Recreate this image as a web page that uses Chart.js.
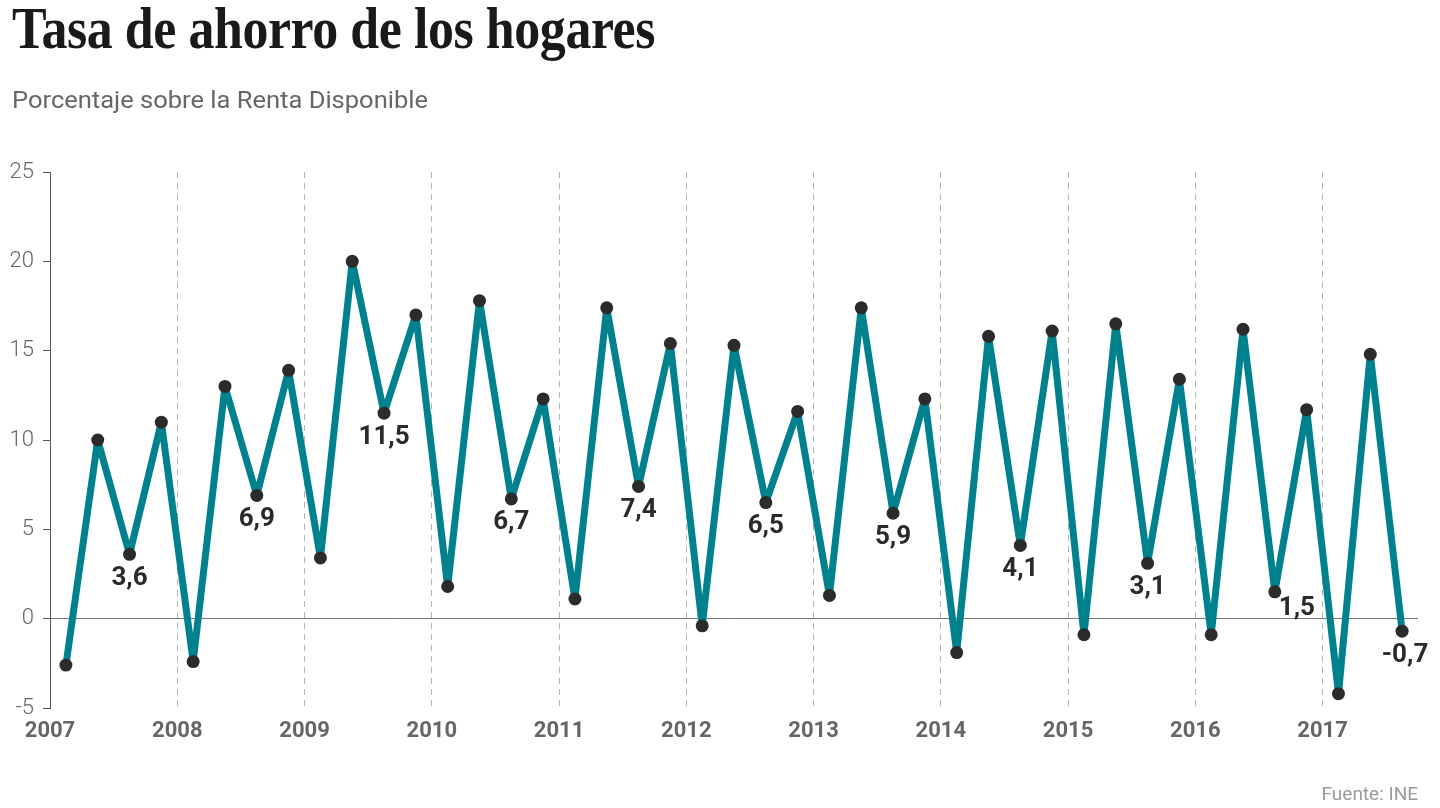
<!DOCTYPE html>
<html>
<head>
<meta charset="utf-8">
<script src="https://cdn.jsdelivr.net/npm/chart.js@4.4.1/dist/chart.umd.min.js"></script>
<style>
  html, body { margin: 0; padding: 0; background: #fff; }
  body { width: 1440px; height: 808px; position: relative; overflow: hidden; }
  #title { position: absolute; left: 12px; top: -6px; font-family: "Liberation Serif", serif; font-weight: bold; font-size: 60px; color: #1a1a1a; white-space: nowrap; transform-origin: 0 0; letter-spacing: -0.5px; }
  #subtitle { position: absolute; left: 12px; top: 86px; font-family: Roboto, sans-serif; font-size: 24px; color: #666; white-space: nowrap; transform-origin: 0 0; }
  #source { position: absolute; right: 22px; top: 782px; font-family: Roboto, sans-serif; font-size: 19px; color: #9a9a9a; white-space: nowrap; }
  #wrap { position: absolute; left: 0; top: 0; width: 1440px; height: 808px; }
</style>
</head>
<body>
<div id="wrap"><canvas id="c" width="1440" height="808"></canvas></div>
<div id="title">Tasa de ahorro de los hogares</div>
<div id="subtitle">Porcentaje sobre la Renta Disponible</div>
<div id="source">Fuente: INE</div>
<script>
// ---- Data ----
const periods = [
  "2007T1","2007T2","2007T3","2007T4",
  "2008T1","2008T2","2008T3","2008T4",
  "2009T1","2009T2","2009T3","2009T4",
  "2010T1","2010T2","2010T3","2010T4",
  "2011T1","2011T2","2011T3","2011T4",
  "2012T1","2012T2","2012T3","2012T4",
  "2013T1","2013T2","2013T3","2013T4",
  "2014T1","2014T2","2014T3","2014T4",
  "2015T1","2015T2","2015T3","2015T4",
  "2016T1","2016T2","2016T3","2016T4",
  "2017T1","2017T2","2017T3"
];
const savingsRate = [
  -2.6, 10.0, 3.6, 11.0,
  -2.4, 13.0, 6.9, 13.9,
   3.4, 20.0, 11.5, 17.0,
   1.8, 17.8, 6.7, 12.3,
   1.1, 17.4, 7.4, 15.4,
  -0.4, 15.3, 6.5, 11.6,
   1.3, 17.4, 5.9, 12.3,
  -1.9, 15.8, 4.1, 16.1,
  -0.9, 16.5, 3.1, 13.4,
  -0.9, 16.2, 1.5, 11.7,
  -4.2, 14.8, -0.7
];
const labeledPeriods = ["2007T3","2008T3","2009T3","2010T3","2011T3","2012T3","2013T3","2014T3","2015T3","2016T3","2017T3"];
const yearTicks = [2007,2008,2009,2010,2011,2012,2013,2014,2015,2016,2017];
const yTicks = [-5,0,5,10,15,20,25];

// period "YYYYTn" -> mid-quarter position on a continuous year axis
function periodToX(p) {
  const y = parseInt(p.slice(0,4), 10);
  const q = parseInt(p.slice(5), 10);
  return y + (q - 1) / 4 + 1 / 8;
}
const points = periods.map((p, i) => ({ x: periodToX(p), y: savingsRate[i] }));

const fmt = v => v.toFixed(1).replace('.', ',');

const labelPlugin = {
  id: 'qLabels',
  afterDatasetsDraw(chart) {
    const ctx = chart.ctx;
    const meta = chart.getDatasetMeta(0);
    ctx.save();
    ctx.font = 'bold 26px Roboto, sans-serif';
    ctx.fillStyle = '#2a2a2a';
    ctx.textAlign = 'center';
    ctx.textBaseline = 'middle';
    periods.forEach((p, i) => {
      if (!labeledPeriods.includes(p)) return;
      const el = meta.data[i];
      let dx = 0, dy = 24;
      if (p === "2016T3") { dx = 22; dy = 17; }
      if (p === "2017T3") { dx = 3; }
      ctx.fillText(fmt(savingsRate[i]), el.x + dx, el.y + dy);
    });
    ctx.restore();
  }
};

new Chart(document.getElementById('c'), {
  type: 'line',
  data: {
    datasets: [{
      data: points,
      borderColor: '#00818e',
      borderWidth: 7,
      borderJoinStyle: 'round',
      borderCapStyle: 'round',
      tension: 0,
      clip: false,
      pointRadius: 6.5,
      pointHoverRadius: 6.5,
      pointBackgroundColor: '#2b2b2b',
      pointBorderWidth: 0,
      fill: false
    }]
  },
  options: {
    responsive: false,
    animation: false,
    events: [],
    layout: { padding: { top: 172, right: 22, bottom: 0, left: 0 } },
    plugins: { legend: { display: false }, tooltip: { enabled: false } },
    scales: {
      x: {
        type: 'linear',
        min: yearTicks[0],
        max: 2017.75,
        afterBuildTicks: s => { s.ticks = yearTicks.map(v => ({ value: v })); },
        afterFit: s => { s.height = 100; },
        grid: {
          drawTicks: false,
          color: c => (c.tick && c.tick.value === yearTicks[0]) ? 'rgba(0,0,0,0)' : '#b5b5b5',
          lineWidth: 1
        },
        border: { display: false, dash: [6, 5] },
        ticks: {
          padding: 10,
          maxRotation: 0,
          autoSkip: false,
          color: '#666',
          font: { family: 'Roboto', size: 22, weight: 'bold' },
          callback: v => String(v)
        }
      },
      y: {
        min: -5,
        max: 25,
        afterBuildTicks: s => { s.ticks = yTicks.map(v => ({ value: v })); },
        afterFit: s => { s.width = 50; },
        grid: {
          drawTicks: true,
          tickLength: 7,
          tickColor: '#555',
          color: c => (c.tick && c.tick.value === 0) ? '#777' : 'rgba(0,0,0,0)',
          lineWidth: 1
        },
        border: { display: true, color: '#555', width: 1 },
        ticks: {
          padding: 9,
          color: '#666',
          font: { family: 'Roboto', size: 22, weight: '300' }
        }
      }
    }
  },
  plugins: [labelPlugin]
});

// fit the title and subtitle to the reference widths
function fitWidth(id, target) {
  const el = document.getElementById(id);
  const w = el.getBoundingClientRect().width;
  el.style.transform = 'scaleX(' + (target / w) + ')';
}
fitWidth('title', 643);
fitWidth('subtitle', 416);
</script>
</body>
</html>
